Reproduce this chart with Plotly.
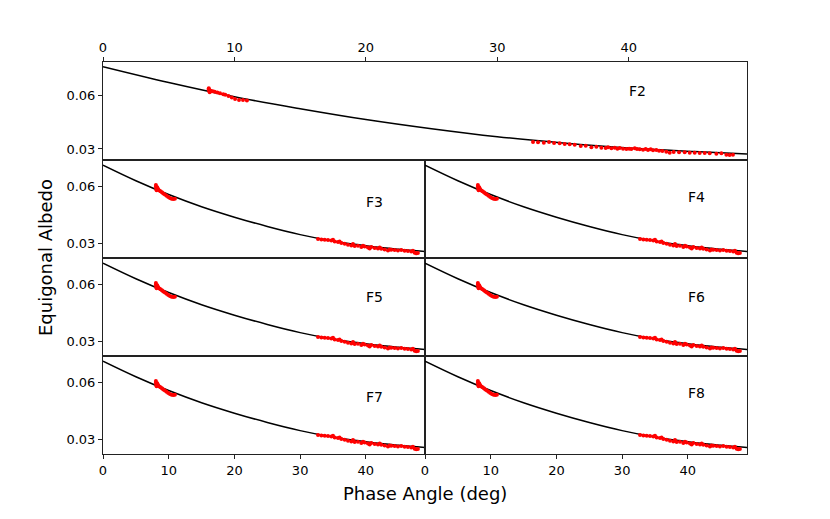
import plotly.graph_objects as go
from plotly.subplots import make_subplots

# model curves (phase angle in deg, equigonal albedo)
CURVE_ANGLE = [0, 5, 10, 15, 20, 25, 30, 35, 40, 45, 49]
F2_CURVE_ALBEDO = [0.0763, 0.0674, 0.0594, 0.0527, 0.0466, 0.0414, 0.0369, 0.0334, 0.0306, 0.0286, 0.0272]
SMALL_CURVE_ALBEDO = [0.0714, 0.0632, 0.0559, 0.0495, 0.0440, 0.0391, 0.0348, 0.0314, 0.0289, 0.0271, 0.0259]

# F2 observations
F2_NEAR_ANGLE = [8.05, 8.05, 8.08, 8.10, 8.12, 8.20, 8.35, 8.50, 8.70, 8.90, 9.15, 9.30,
                 9.55, 9.80, 10.05, 10.35, 10.65, 10.95]
F2_NEAR_ALBEDO = [0.0642, 0.0636, 0.0630, 0.0624, 0.0619, 0.0628, 0.0625, 0.0622, 0.0618, 0.0614,
                  0.0608, 0.0606, 0.0598, 0.0590, 0.0582, 0.0576, 0.0576, 0.0573]
F2_FAR_ANGLE = [32.72, 33.10, 33.54, 33.94, 34.32, 34.75, 35.13, 35.51, 35.89, 36.35, 36.73, 37.16,
                37.54, 37.92, 38.25, 38.43, 38.68, 38.94, 39.14, 39.32, 39.57, 39.82, 40.03, 40.20,
                40.46, 40.63, 40.84, 41.09, 41.29, 41.47, 41.67, 41.85, 42.10, 42.31, 42.56, 42.86,
                43.12, 43.42, 43.83, 44.26, 44.64, 45.02, 45.40, 45.78, 46.16, 46.67, 47.05, 47.43,
                47.68, 47.93]
F2_FAR_ALBEDO = [0.03394, 0.03375, 0.03357, 0.03394, 0.03338, 0.03319, 0.03282, 0.03263, 0.03244,
                 0.03169, 0.03188, 0.03094, 0.03131, 0.03075, 0.03056, 0.03094, 0.03038, 0.03075,
                 0.03019, 0.03056, 0.03019, 0.03000, 0.03019, 0.03000, 0.03038, 0.03000, 0.02981,
                 0.02962, 0.03000, 0.02944, 0.02981, 0.02925, 0.02944, 0.02906, 0.02887, 0.02850,
                 0.02794, 0.02831, 0.02812, 0.02812, 0.02794, 0.02794, 0.02775, 0.02775, 0.02756,
                 0.02737, 0.02756, 0.02681, 0.02662, 0.02681]

# F3-F8 observations (the six small panels look the same)
SMALL_NEAR_ANGLE = [8.05, 8.05, 8.10, 8.15, 8.25, 8.40, 8.56, 8.76, 8.96, 9.17, 9.42, 9.67,
                    9.93, 10.18, 10.43, 10.69, 10.94]
SMALL_NEAR_ALBEDO = [0.0609, 0.0600, 0.0591, 0.0582, 0.0597, 0.0587, 0.0581, 0.0576, 0.0571, 0.0565,
                     0.0560, 0.0553, 0.0546, 0.0541, 0.0537, 0.0536, 0.0537]
SMALL_FAR_ANGLE = [32.72, 33.23, 33.74, 34.24, 34.75, 35.00, 35.26, 35.76, 36.00, 36.27, 36.78, 37.28,
                   37.79, 38.04, 38.30, 38.80, 39.31, 39.56, 39.82, 40.32, 40.58, 40.83, 41.34, 41.84,
                   42.10, 42.35, 42.86, 43.36, 43.62, 43.87, 44.38, 44.88, 45.39, 45.90, 46.40, 46.91,
                   47.16, 47.42, 47.67, 47.92]
SMALL_FAR_ALBEDO = [0.03244, 0.03227, 0.03209, 0.03192, 0.03175, 0.03209, 0.03122, 0.03087, 0.03122,
                    0.03035, 0.03000, 0.02948, 0.02913, 0.02983, 0.02878, 0.02895, 0.02825, 0.02895,
                    0.02860, 0.02808, 0.02756, 0.02825, 0.02773, 0.02756, 0.02808, 0.02738, 0.02703,
                    0.02651, 0.02703, 0.02686, 0.02668, 0.02651, 0.02668, 0.02633, 0.02616, 0.02598,
                    0.02633, 0.02529, 0.02494, 0.02511]

PANELS = ['F3', 'F4', 'F5', 'F6', 'F7', 'F8']
X_TICKS = [0, 10, 20, 30, 40]
Y_TICKS = [0.03, 0.06]
Y_TICK_TEXT = ['0.03', '0.06']

FONT = 'DejaVu Sans'

fig = make_subplots(rows=4, cols=2,
                    specs=[[{'colspan': 2}, None], [{}, {}], [{}, {}], [{}, {}]],
                    horizontal_spacing=0, vertical_spacing=0)


def add_panel(row, col, curve_y, near_x, near_y, far_x, far_y):
    fig.add_trace(go.Scatter(x=CURVE_ANGLE, y=curve_y, mode='lines',
                             line=dict(color='black', width=1.5, shape='spline')),
                  row=row, col=col)
    fig.add_trace(go.Scatter(x=near_x + far_x, y=near_y + far_y, mode='markers',
                             marker=dict(color='red', size=4, line=dict(width=0))),
                  row=row, col=col)


add_panel(1, 1, F2_CURVE_ALBEDO, F2_NEAR_ANGLE, F2_NEAR_ALBEDO, F2_FAR_ANGLE, F2_FAR_ALBEDO)
for i, name in enumerate(PANELS):
    add_panel(2 + i // 2, 1 + i % 2, SMALL_CURVE_ALBEDO,
              SMALL_NEAR_ANGLE, SMALL_NEAR_ALBEDO, SMALL_FAR_ANGLE, SMALL_FAR_ALBEDO)

axis_style = dict(showline=True, mirror=True, linecolor='#222222', linewidth=1,
                  showgrid=False, zeroline=False, ticks='outside', ticklen=4,
                  tickcolor='#222222', tickfont=dict(family=FONT, size=13, color='black'))

fig.update_xaxes(range=[0, 49], tickvals=X_TICKS, **axis_style)
fig.update_yaxes(range=[0.0225, 0.0741], tickvals=Y_TICKS, ticktext=Y_TICK_TEXT, **axis_style)

# top panel
fig.update_xaxes(side='top', row=1, col=1)
fig.update_yaxes(range=[0.0238, 0.0790], row=1, col=1)

# middle rows: no x ticks
for r in (2, 3):
    for c in (1, 2):
        fig.update_xaxes(ticks='', showticklabels=False, row=r, col=c)
# right column: no y ticks
for r in (2, 3, 4):
    fig.update_yaxes(ticks='', showticklabels=False, row=r, col=2)

label_pos = {'F2': (0.8297, 0.9258), 'F3': (0.4213, 0.6427), 'F4': (0.9219, 0.6555),
             'F5': (0.4213, 0.4015), 'F6': (0.9219, 0.3997), 'F7': (0.4213, 0.1458),
             'F8': (0.9219, 0.156)}
for name, (px, py) in label_pos.items():
    fig.add_annotation(x=px, y=py, xref='paper', yref='paper', text=name, showarrow=False,
                       xanchor='center', yanchor='middle',
                       font=dict(family=FONT, size=14, color='black'))

fig.add_annotation(x=0.5, y=-0.1, xref='paper', yref='paper', text='Phase Angle (deg)',
                   showarrow=False, xanchor='center', yanchor='middle',
                   font=dict(family=FONT, size=18, color='black'))
fig.add_annotation(x=-0.09, y=0.5, xref='paper', yref='paper', text='Equigonal Albedo',
                   showarrow=False, textangle=-90, xanchor='center', yanchor='middle',
                   font=dict(family=FONT, size=18, color='black'))

# page body has an 8px margin, so the plot area is pulled up/left by 8px
# (plot height 392 -> each row is a whole 98px, keeps shared borders crisp)
fig.update_layout(width=830, height=519, showlegend=False,
                  margin=dict(l=95, r=91, t=54, b=73),
                  plot_bgcolor='white', paper_bgcolor='white')

fig.write_html("out.html")
